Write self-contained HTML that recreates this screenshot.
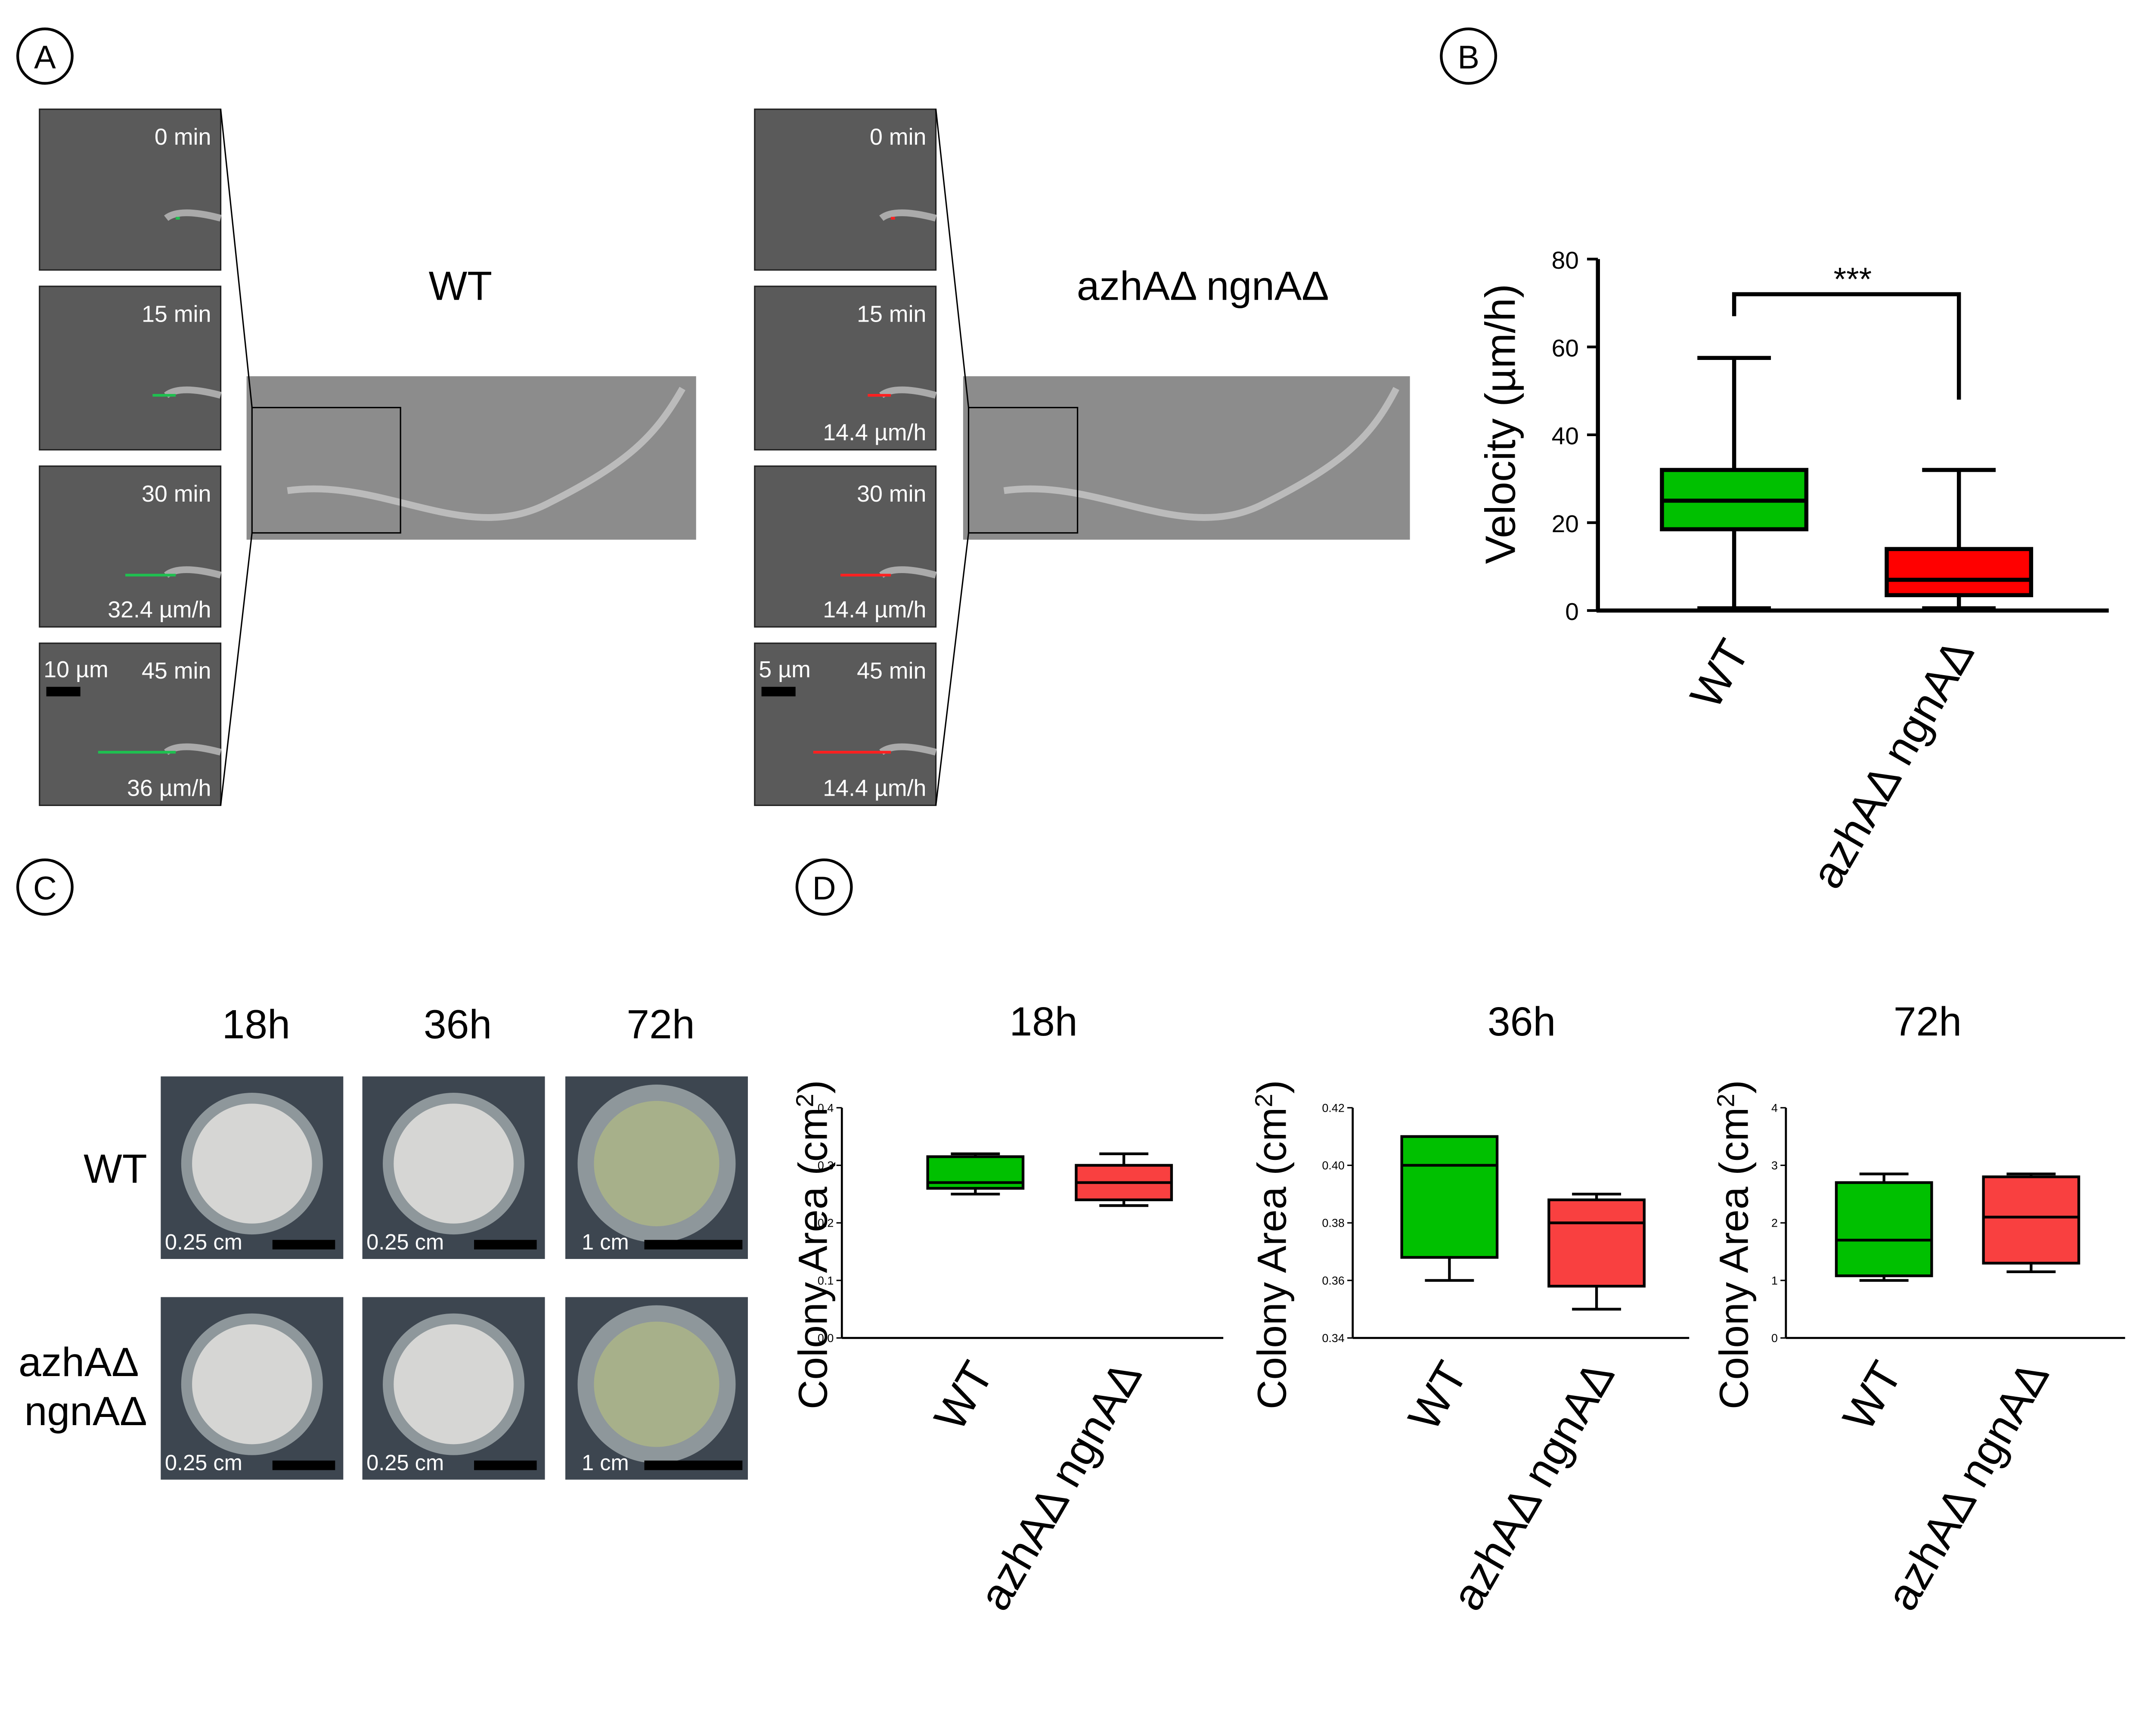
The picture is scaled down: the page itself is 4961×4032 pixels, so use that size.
<!DOCTYPE html>
<html><head><meta charset="utf-8">
<style>html,body{margin:0;padding:0;background:#fff}svg{display:block}text{font-family:"Liberation Sans",sans-serif}</style>
</head><body>
<svg id="fig" width="4961" height="4032" viewBox="0 0 1568 1274" xmlns="http://www.w3.org/2000/svg">
<rect width="1568" height="1274" fill="#fff"/>
<g font-size="24">
<circle cx="33" cy="41" r="20" fill="none" stroke="#000" stroke-width="2"/><text x="33" y="50" text-anchor="middle">A</text>
<circle cx="1078" cy="41" r="20" fill="none" stroke="#000" stroke-width="2"/><text x="1078" y="50" text-anchor="middle">B</text>
<circle cx="33" cy="651" r="20" fill="none" stroke="#000" stroke-width="2"/><text x="33" y="660" text-anchor="middle">C</text>
<circle cx="605" cy="651" r="20" fill="none" stroke="#000" stroke-width="2"/><text x="605" y="660" text-anchor="middle">D</text>
</g>
<g id="panelA"></g>
<g id="panelC"></g>
<g id="panelB"></g>
<g id="panelD"></g>
</svg>
<script>
// Panel B data
const velCategories = ["WT", "azhAΔ ngnAΔ"];
const velMin = [0.5, 0.5];
const velQ1 = [18.5, 3.5];
const velMedian = [25, 7];
const velQ3 = [32, 14];
const velMax = [57.5, 32];
const velTicks = [0, 20, 40, 60, 80];
// Panel D data
const areaTitles = ["18h", "36h", "72h"];
const areaTicks = [[0.0,0.1,0.2,0.3,0.4],[0.34,0.36,0.38,0.40,0.42],[0,1,2,3,4]];
const areaTickLabels = [["0.0","0.1","0.2","0.3","0.4"],["0.34","0.36","0.38","0.40","0.42"],["0","1","2","3","4"]];
const areaMin = [[0.25,0.23],[0.36,0.35],[1.0,1.15]];
const areaQ1 = [[0.26,0.24],[0.368,0.358],[1.08,1.3]];
const areaMedian = [[0.27,0.27],[0.40,0.38],[1.7,2.1]];
const areaQ3 = [[0.315,0.30],[0.41,0.388],[2.7,2.8]];
const areaMax = [[0.32,0.32],[0.41,0.39],[2.85,2.85]];

const NS = "http://www.w3.org/2000/svg";
function mk(parent, tag, attrs, txt){const e=document.createElementNS(NS,tag);for(const k in attrs)e.setAttribute(k,attrs[k]);if(txt!==undefined)e.textContent=txt;parent.appendChild(e);return e;}

// Panel A
const A = document.getElementById('panelA');
function strip(x, labels, rates, scale, col){
  const ys=[[80,198],[210,330],[342,460],[472,591]];
  ys.forEach((r,i)=>{
    const f=mk(A,'rect',{x:x,y:r[0],width:133,height:r[1]-r[0],fill:'#5a5a5a',stroke:'#222','stroke-width':1});
    
    
    mk(A,'path',{d:`M${x+133} ${r[0]+80} q-30 -8 -40 0`,stroke:'#aaa','stroke-width':5,fill:'none'});
    mk(A,'line',{x1:x+133-30-i*20,y1:r[0]+80,x2:x+100,y2:r[0]+80,stroke:col,'stroke-width':2});
    mk(A,'text',{x:x+126,y:r[0]+26,'text-anchor':'end','font-size':17,fill:'#fff'},labels[i]);
    if(rates[i]) mk(A,'text',{x:x+126,y:r[1]-7,'text-anchor':'end','font-size':17,fill:'#fff'},rates[i]);
  });
  mk(A,'text',{x:x+3,y:497,'font-size':17,fill:'#fff'},scale);
  mk(A,'rect',{x:x+5,y:504,width:25,height:7,fill:'#000'});
}
strip(29,["0 min","15 min","30 min","45 min"],["","","32.4 µm/h","36 µm/h"],"10 µm",'#1fc050');
strip(554,["0 min","15 min","30 min","45 min"],["","14.4 µm/h","14.4 µm/h","14.4 µm/h"],"5 µm",'#ff2020');
function wide(x,w,title,tx,bw){
  const r=mk(A,'rect',{x:x,y:276,width:w,height:120,fill:'#8c8c8c'});
  
  
  mk(A,'path',{d:`M${x+30} 360 C ${x+100} 350, ${x+160} 400, ${x+220} 370 S ${x+300} 320, ${x+w-10} 285`,stroke:'#bbb','stroke-width':5,fill:'none'});
  mk(A,'rect',{x:x+4,y:299,width:bw,height:92,fill:'none',stroke:'#000','stroke-width':1});
  mk(A,'text',{x:tx,y:220,'text-anchor':'middle','font-size':30},title);
}
wide(181,330,"WT",338,109);wide(707,328,"azhAΔ ngnAΔ",883,80);
mk(A,'line',{x1:162,y1:80,x2:185,y2:299,stroke:'#000'});mk(A,'line',{x1:162,y1:591,x2:185,y2:391,stroke:'#000'});
mk(A,'line',{x1:687,y1:80,x2:711,y2:299,stroke:'#000'});mk(A,'line',{x1:687,y1:591,x2:711,y2:391,stroke:'#000'});

// Panel C
const C=document.getElementById('panelC');
const cx=[118,266,415], cy=[790,952];
["18h","36h","72h"].forEach((t,i)=>mk(C,'text',{x:cx[i]+70,y:762,'text-anchor':'middle','font-size':30},t));
mk(C,'text',{x:108,y:868,'text-anchor':'end','font-size':30},"WT");
mk(C,'text',{x:102,y:1010,'text-anchor':'end','font-size':30},"azhAΔ");
mk(C,'text',{x:108,y:1046,'text-anchor':'end','font-size':30},"ngnAΔ");
cy.forEach(y=>cx.forEach((x,i)=>{
  const r=mk(C,'rect',{x:x,y:y,width:134,height:134,fill:'#3d4650'});
  
  
  mk(C,'circle',{cx:x+67,cy:y+64,r:i==2?58:52,fill:'#8e979b'});
  mk(C,'circle',{cx:x+67,cy:y+64,r:i==2?46:44,fill:i==2?'#a7b08a':'#d6d6d4'});
  mk(C,'text',{x:x+(i==2?12:3),y:y+127,'font-size':16,fill:'#fff'},i==2?"1 cm":"0.25 cm");
  mk(C,'rect',{x:x+(i==2?58:82),y:y+120,width:i==2?72:46,height:7,fill:'#000'});
}));

// Panel B chart
const B=document.getElementById('panelB');
const bx0=1173,by0=448,by1=190,bxEnd=1548;
const yB=v=>by0-(v-velTicks[0])/(velTicks[velTicks.length-1]-velTicks[0])*(by0-by1);
const bCenters=[1273,1438], bHalf=53, bCols=['#00c000','#ff0000'];
mk(B,'line',{x1:bx0,y1:by1,x2:bx0,y2:by0+1,stroke:'#000','stroke-width':3});
mk(B,'line',{x1:bx0-1,y1:by0,x2:bxEnd,y2:by0,stroke:'#000','stroke-width':3});
velTicks.forEach(t=>{mk(B,'line',{x1:bx0-8,y1:yB(t),x2:bx0,y2:yB(t),stroke:'#000','stroke-width':2});mk(B,'text',{x:bx0-14,y:yB(t)+7,'text-anchor':'end','font-size':18},t);});
mk(B,'text',{x:0,y:0,transform:`translate(1112 ${(by0+by1)/2-8}) rotate(-90)`,'text-anchor':'middle','font-size':31},"Velocity (µm/h)");
velCategories.forEach((c,i)=>{
  const x=bCenters[i];
  const g=mk(B,'g',{});
  
  
  mk(g,'line',{x1:x,y1:yB(velMin[i]),x2:x,y2:yB(velMax[i]),stroke:'#000','stroke-width':3});
  mk(g,'line',{x1:x-27,y1:yB(velMax[i]),x2:x+27,y2:yB(velMax[i]),stroke:'#000','stroke-width':3});
  mk(g,'line',{x1:x-27,y1:yB(velMin[i]),x2:x+27,y2:yB(velMin[i]),stroke:'#000','stroke-width':3});
  mk(g,'rect',{x:x-bHalf,y:yB(velQ3[i]),width:2*bHalf,height:yB(velQ1[i])-yB(velQ3[i]),fill:bCols[i],stroke:'#000','stroke-width':3});
  mk(g,'line',{x1:x-bHalf,y1:yB(velMedian[i]),x2:x+bHalf,y2:yB(velMedian[i]),stroke:'#000','stroke-width':3});
  mk(B,'text',{x:0,y:0,transform:`translate(${x+12} ${by0+30}) rotate(-60)`,'text-anchor':'end','font-size':33},c);
});
mk(B,'path',{d:`M1273 ${yB(67)} V${yB(72)} H1438 V${yB(48)}`,fill:'none',stroke:'#000','stroke-width':3});
mk(B,'text',{x:1360,y:213,'text-anchor':'middle','font-size':24},"***");

// Panel D charts
const D=document.getElementById('panelD');
const axX=[618,993,1311], axEnd=[898,1240,1560], off=[[98,207],[71,179],[72,180]];
const titleX=[766,1117,1415], labX=[607,944,1283];
const dTop=813, dBot=982, dCols=['#00c000','#f94040'];
areaTitles.forEach((t,k)=>{
  const tk=areaTicks[k], lo=tk[0], hi=tk[tk.length-1];
  const y=v=>dBot-(v-lo)/(hi-lo)*(dBot-dTop);
  const x0=axX[k];
  mk(D,'text',{x:titleX[k],y:760,'text-anchor':'middle','font-size':30},t);
  mk(D,'line',{x1:x0,y1:dTop,x2:x0,y2:dBot,stroke:'#000','stroke-width':1.5});
  mk(D,'line',{x1:x0,y1:dBot,x2:axEnd[k],y2:dBot,stroke:'#000','stroke-width':1.5});
  tk.forEach((v,j)=>{mk(D,'line',{x1:x0-4,y1:y(v),x2:x0,y2:y(v),stroke:'#000'});mk(D,'text',{x:x0-6,y:y(v)+3,'text-anchor':'end','font-size':8.5},areaTickLabels[k][j]);});
  const lab=mk(D,'text',{transform:`translate(${labX[k]} ${(dTop+dBot)/2+16}) rotate(-90)`,'text-anchor':'middle','font-size':30});
  lab.innerHTML='Colony Area (cm<tspan baseline-shift="super" font-size="18">2</tspan>)';
  [0,1].forEach(i=>{
    const cxp=x0+off[k][i];
    const g=mk(D,'g',{});
    
    
    mk(g,'line',{x1:cxp,y1:y(areaMin[k][i]),x2:cxp,y2:y(areaMax[k][i]),stroke:'#000','stroke-width':2});
    mk(g,'line',{x1:cxp-18,y1:y(areaMax[k][i]),x2:cxp+18,y2:y(areaMax[k][i]),stroke:'#000','stroke-width':2});
    mk(g,'line',{x1:cxp-18,y1:y(areaMin[k][i]),x2:cxp+18,y2:y(areaMin[k][i]),stroke:'#000','stroke-width':2});
    mk(g,'rect',{x:cxp-35,y:y(areaQ3[k][i]),width:70,height:y(areaQ1[k][i])-y(areaQ3[k][i]),fill:dCols[i],stroke:'#000','stroke-width':2});
    mk(g,'line',{x1:cxp-35,y1:y(areaMedian[k][i]),x2:cxp+35,y2:y(areaMedian[k][i]),stroke:'#000','stroke-width':2});
    mk(D,'text',{x:0,y:0,transform:`translate(${cxp+14} ${dBot+26}) rotate(-60)`,'text-anchor':'end','font-size':33},i==0?"WT":"azhAΔ ngnAΔ");
  });
});
</script>
</body></html>
